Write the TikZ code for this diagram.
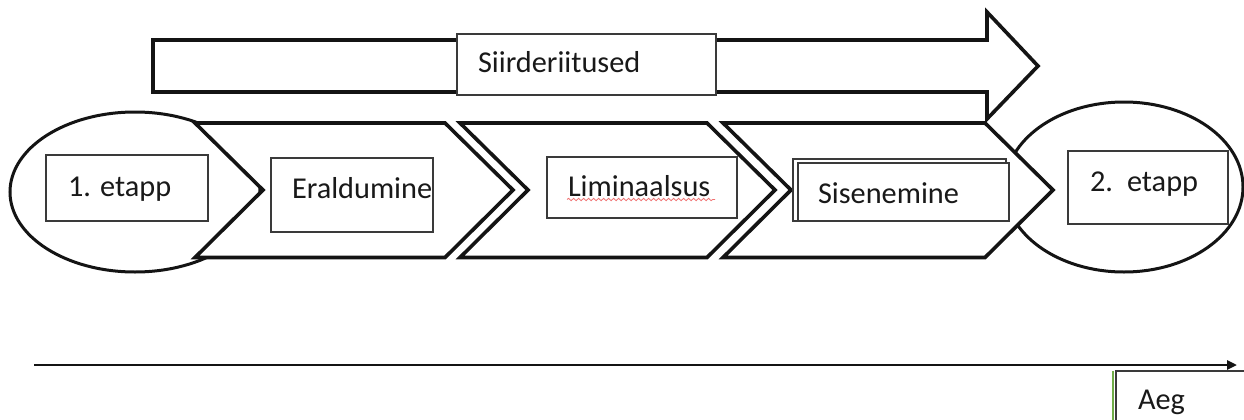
\documentclass[tikz,border=0pt]{standalone}
\usepackage{fontspec}
\setmainfont{Carlito}
\usetikzlibrary{arrows.meta,decorations.pathmorphing}
\definecolor{boxgray}{HTML}{3A3A3A}
\definecolor{wordgreen}{HTML}{70AD47}
\definecolor{squig}{HTML}{F07070}
\begin{document}
\begin{tikzpicture}[x=1pt,y=-1pt,
  shapeline/.style={line width=3.6pt, draw=black!92, fill=white, line join=miter},
  ell/.style={line width=3pt, draw=black!92, fill=white},
  tbox/.style={draw=boxgray, line width=1.4pt, fill=white, inner sep=0pt, outer sep=0pt},
  lbl/.style={anchor=base west, inner sep=0pt, outer sep=0pt, font=\fontsize{30.3}{32}\selectfont, text=black!90}]
\useasboundingbox (0,0) rectangle (1244,420);
\clip (0,0) rectangle (1244,420);
\fill[white] (0,0) rectangle (1244,420);

% big transition arrow
\draw[shapeline] (153,40) -- (987,40) -- (987,12) -- (1038,66) -- (987,119) -- (987,92) -- (153,92) -- cycle;
\node[tbox, minimum width=259pt, minimum height=61pt] (srbox) at (586.5,64.5) {};
\node[lbl] (srtext) at (478,73) {Siirderiitused};

% ellipses (behind chevrons)
\draw[ell] (135,192) ellipse [x radius=125pt, y radius=80pt];
\draw[ell] (1124,187) ellipse [x radius=119pt, y radius=85pt];

% chevrons
\draw[shapeline] (195,123) -- (445,123) -- (513,190) -- (445,257.5) -- (195,257.5) -- (263,190) -- cycle;
\draw[shapeline] (460,123) -- (707,123) -- (775,190) -- (707,257.5) -- (460,257.5) -- (528,190) -- cycle;
\draw[shapeline] (723,123) -- (985,123) -- (1053,190) -- (985,257.5) -- (723,257.5) -- (791,190) -- cycle;

% text boxes
\node[tbox, minimum width=162pt, minimum height=66pt] (e1box) at (127,188) {};
\node[lbl] (e1text) at (68,196) {1. etapp};

\node[tbox, minimum width=162pt, minimum height=74pt] (erbox) at (352,195) {};
\node[lbl] (ertext) at (292,198) {Eraldumine};

\node[tbox, minimum width=190pt, minimum height=61pt] (libox) at (642,187.5) {};
\node[lbl] (litext) at (568,196.5) {Liminaalsus};
\draw[squig, line width=0.8pt, decorate, decoration={snake, amplitude=1.2pt, segment length=5pt}] (567,199.5) -- (715,199.5);

\node[tbox, minimum width=213pt, minimum height=62pt] (siback) at (899.5,190) {};
\node[tbox, minimum width=211pt, minimum height=58pt] (sibox) at (903.5,192) {};
\node[lbl] (sitext) at (818,203) {Sisenemine};

\node[tbox, minimum width=160pt, minimum height=73pt] (e2box) at (1148,187.5) {};
\node[lbl] (e2text) at (1090,191) {2.\hspace{14pt}etapp};

% time axis
\coordinate (tstart) at (34,365);
\coordinate (tend) at (1237,365);
\draw[line width=2.8pt, draw=black!92, -{Triangle[length=10pt,width=9pt]}] (tstart) -- (tend);

\node[tbox, minimum width=154pt, minimum height=79pt] (aegbox) at (1193,410.5) {};
\draw[wordgreen, line width=1.6pt] (1113,371) -- (1113,425);
\node[lbl] (aegtext) at (1138,409) {Aeg};
\end{tikzpicture}
\end{document}
